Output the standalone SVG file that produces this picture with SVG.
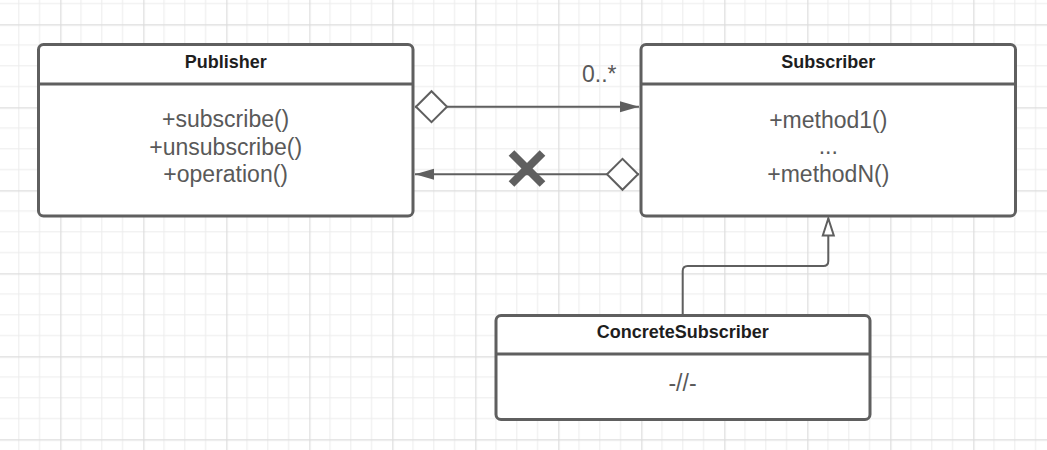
<svg xmlns="http://www.w3.org/2000/svg" width="1047" height="450" viewBox="0 0 1047 450">
<style>
.box{fill:#ffffff;stroke:#5f5f5f;stroke-width:3}
.div{stroke:#5f5f5f;stroke-width:3}
.title{font-family:"Liberation Sans",Arial,sans-serif;font-size:18px;font-weight:bold;fill:#1e1e1e;text-anchor:middle}
.meth{font-family:"Liberation Sans",Arial,sans-serif;font-size:23px;fill:#595959;text-anchor:middle}
.lbl{font-family:"Liberation Sans",Arial,sans-serif;font-size:23px;fill:#595959}
.conn{fill:none;stroke:#5f5f5f;stroke-width:2}
</style>
<defs>
<pattern id="grid" patternUnits="userSpaceOnUse" x="60.3" y="24.3" width="83" height="83">
<path d="M20.75 0V83M41.5 0V83M62.25 0V83M0 20.75H83M0 41.5H83M0 62.25H83" stroke="#ececec" stroke-width="1" fill="none"/>
<path d="M0.5 0V83M0 0.5H83" stroke="#dcdcdc" stroke-width="1.4" fill="none"/>
</pattern>
<marker id="arrow" markerUnits="userSpaceOnUse" markerWidth="20" markerHeight="12" refX="19" refY="5.5" orient="auto" overflow="visible">
<path d="M0,0 L19,5.5 L0,11 z" fill="#5f5f5f"/>
</marker>
<marker id="diamond" markerUnits="userSpaceOnUse" markerWidth="33" markerHeight="33" refX="0" refY="16" orient="auto" overflow="visible">
<path d="M1,16 L16.5,0.5 L32,16 L16.5,31.5 z" fill="#ffffff" stroke="#5f5f5f" stroke-width="2"/>
</marker>
<marker id="tri" markerUnits="userSpaceOnUse" markerWidth="18" markerHeight="12" refX="17" refY="5.5" orient="auto" overflow="visible">
<path d="M0,0 L17,5.5 L0,11 z" fill="#ffffff" stroke="#5f5f5f" stroke-width="2" stroke-linejoin="miter"/>
</marker>
</defs>
<rect x="0" y="0" width="1047" height="450" fill="#ffffff"/>
<rect x="0" y="0" width="1047" height="450" fill="url(#grid)"/>

<g id="connectors">
<path class="conn" d="M415,106.7 H639" marker-start="url(#diamond)" marker-end="url(#arrow)"/>
<path class="conn" d="M639,174.3 H415" marker-start="url(#diamond)" marker-end="url(#arrow)"/>
<path class="conn" d="M682.7,315 V271 Q682.7,266 687.7,266 H823.3 Q828.3,266 828.3,261 V218.5" marker-end="url(#tri)"/>
<g id="cross" stroke="#5f5f5f" stroke-width="8" stroke-linecap="butt">
<line x1="511.5" y1="153" x2="542.5" y2="184"/>
<line x1="542.5" y1="153" x2="511.5" y2="184"/>
</g>
<text class="lbl" x="582" y="81.7">0..*</text>
</g>

<g id="publisher">
<rect class="box" x="38.5" y="44.5" width="374.5" height="171.5" rx="5"/>
<line class="div" x1="38.5" y1="84" x2="413" y2="84"/>
<text class="title" x="225.7" y="68.3">Publisher</text>
<text class="meth" x="225.7" y="127">+subscribe()</text>
<text class="meth" x="225.7" y="154.5">+unsubscribe()</text>
<text class="meth" x="225.7" y="182">+operation()</text>
</g>

<g id="subscriber">
<rect class="box" x="641" y="44.5" width="374.5" height="171.5" rx="5"/>
<line class="div" x1="641" y1="84" x2="1015.5" y2="84"/>
<text class="title" x="828.3" y="68.3">Subscriber</text>
<text class="meth" x="828.3" y="127.7">+method1()</text>
<text class="meth" x="828.3" y="153.5">...</text>
<text class="meth" x="828.3" y="182.3">+methodN()</text>
</g>

<g id="concrete-subscriber">
<rect class="box" x="496" y="315.5" width="374" height="104" rx="5"/>
<line class="div" x1="496" y1="354" x2="870" y2="354"/>
<text class="title" x="682.8" y="337.5">ConcreteSubscriber</text>
<text class="meth" x="682.5" y="391">-//-</text>
</g>
</svg>
